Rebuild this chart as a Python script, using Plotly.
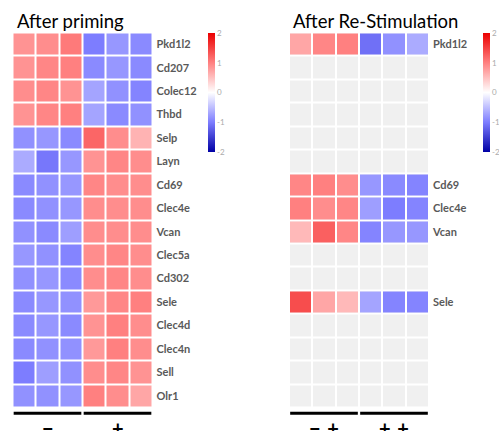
import plotly.graph_objects as go
import numpy as np

W, H = 499, 431

genes = ["Pkd1l2", "Cd207", "Colec12", "Thbd", "Selp", "Layn", "Cd69", "Clec4e",
         "Vcan", "Clec5a", "Cd302", "Sele", "Clec4d", "Clec4n", "Sell", "Olr1"]
samples = [0, 1, 2, 3, 4, 5]

priming = [
    [0.85, 0.90, 1.05, -1.00, -0.80, -0.90],
    [0.85, 0.95, 1.00, -0.90, -0.80, -0.90],
    [0.90, 0.95, 0.85, -0.70, -0.85, -0.95],
    [0.85, 0.95, 1.00, -0.70, -0.90, -0.85],
    [-0.85, -0.80, -0.90, 1.20, 0.90, 0.60],
    [-0.65, -1.05, -0.80, 0.85, 0.95, 0.90],
    [-0.90, -0.85, -0.80, 0.95, 0.90, 0.90],
    [-0.90, -0.85, -0.80, 0.90, 0.90, 0.90],
    [-0.85, -0.90, -0.75, 0.90, 0.90, 0.90],
    [-0.80, -0.85, -0.95, 0.90, 0.95, 0.90],
    [-0.85, -0.80, -0.90, 0.90, 0.95, 0.90],
    [-0.90, -0.80, -0.85, 0.80, 0.95, 1.00],
    [-0.90, -0.80, -0.90, 0.85, 1.00, 0.90],
    [-0.90, -0.85, -0.85, 0.80, 1.00, 0.90],
    [-1.00, -0.75, -0.85, 0.90, 0.95, 0.85],
    [-0.85, -0.85, -0.80, 1.00, 0.90, 0.70],
]

N = None
restim = [
    [0.70, 0.95, 1.00, -1.10, -0.85, -0.65],
    [N] * 6, [N] * 6, [N] * 6, [N] * 6, [N] * 6,
    [0.95, 1.00, 0.90, -0.80, -0.90, -0.95],
    [1.00, 0.90, 0.95, -0.75, -1.00, -0.95],
    [0.55, 1.25, 0.95, -0.95, -0.80, -0.80],
    [N] * 6, [N] * 6,
    [1.40, 0.70, 0.55, -0.70, -0.95, -0.95],
    [N] * 6, [N] * 6, [N] * 6, [N] * 6,
]
restim_labels = ["Pkd1l2", "Cd69", "Clec4e", "Vcan", "Sele"]

group_left = ["−", "+"]
group_right = ["−\u2004+", "+\u2004+"]
titles = ["After priming", "After Re-Stimulation"]
cbar_ticks = [-2, -1, 0, 1, 2]

cscale = [[0.0, "rgb(0,0,165)"], [0.25, "rgb(125,125,255)"], [0.5, "rgb(255,255,255)"],
          [0.75, "rgb(255,128,128)"], [1.0, "rgb(235,0,0)"]]

def px(x):
    return x / W

def py(y):
    return 1 - y / H

fig = go.Figure()

fig.add_trace(go.Heatmap(z=priming, x=samples, y=list(range(len(genes))),
                         coloraxis="coloraxis", xgap=2, ygap=2,
                         xaxis="x", yaxis="y"))
# grey background for missing cells
fig.add_trace(go.Heatmap(z=[[1] * 6 for _ in genes], x=samples, y=list(range(len(genes))),
                         colorscale=[[0, "#f0f0f0"], [1, "#f0f0f0"]], showscale=False,
                         xgap=2, ygap=2, hoverinfo="skip", xaxis="x2", yaxis="y2"))
fig.add_trace(go.Heatmap(z=restim, x=samples, y=list(range(len(genes))),
                         coloraxis="coloraxis2", xgap=2, ygap=2,
                         xaxis="x2", yaxis="y2"))

ytop, ybot = py(32.5), py(407.5)
lab_font = dict(family="Lato", size=11, color="#595959")

cb_common = dict(thickness=7, len=119, lenmode="pixels", yanchor="top", y=py(33),
                 xanchor="left", xpad=0, ypad=0, outlinewidth=0,
                 tickvals=cbar_ticks, ticktext=[str(t) for t in cbar_ticks],
                 tickfont=dict(family="Lato", size=8, color="#aaaaaa"), ticks="")

fig.update_layout(
    width=W, height=H, margin=dict(l=0, r=0, t=0, b=0, autoexpand=False),
    paper_bgcolor="white", plot_bgcolor="white", showlegend=False,
    coloraxis=dict(colorscale=cscale, cmin=-2, cmax=2,
                   colorbar=dict(x=px(208), **cb_common)),
    coloraxis2=dict(colorscale=cscale, cmin=-2, cmax=2,
                    colorbar=dict(x=px(482.5), **cb_common)),
    xaxis=dict(domain=[px(12.5), px(152.5)], range=[-0.5, 5.5], visible=False),
    yaxis=dict(domain=[ybot, ytop], range=[15.5, -0.5], side="right", anchor="x",
               tickvals=list(range(len(genes))), ticktext=["<b>%s</b>" % g for g in genes],
               ticks="", ticklabelstandoff=3, showgrid=False, zeroline=False, showline=False,
               tickfont=lab_font),
    xaxis2=dict(domain=[px(289), px(429)], range=[-0.5, 5.5], visible=False, anchor="y2"),
    yaxis2=dict(domain=[ybot, ytop], range=[15.5, -0.5], side="right", anchor="x2",
                tickvals=[genes.index(g) for g in restim_labels],
                ticktext=["<b>%s</b>" % g for g in restim_labels],
                ticks="", ticklabelstandoff=3, showgrid=False, zeroline=False, showline=False,
                tickfont=lab_font),
)

# titles
for xr, t in zip(["x domain", "x2 domain"], titles):
    fig.add_annotation(text=t, xref=xr, yref="paper", x=0, y=py(20.5), xanchor="left",
                       yanchor="middle", xshift=2, showarrow=False,
                       font=dict(family="Lato", size=18.5, color="black"))

# group bars and labels
for xa, labels in [("x", group_left), ("x2", group_right)]:
    for (x0, x1), lab, xc in zip([(-0.45, 2.45), (2.55, 5.45)], labels, [1, 4]):
        fig.add_shape(type="line", xref=xa, yref="paper", x0=x0, x1=x1,
                      y0=py(413.3), y1=py(413.3), line=dict(color="black", width=3))
        fig.add_annotation(text="<b>%s</b>" % lab, xref=xa, yref="paper", x=xc, y=py(428),
                           yanchor="middle", showarrow=False,
                           font=dict(family="Lato", size=20, color="black"))

fig.write_html("out.html", config={"displayModeBar": False},
               post_script="document.body.style.margin='0';document.body.style.overflow='hidden';")
